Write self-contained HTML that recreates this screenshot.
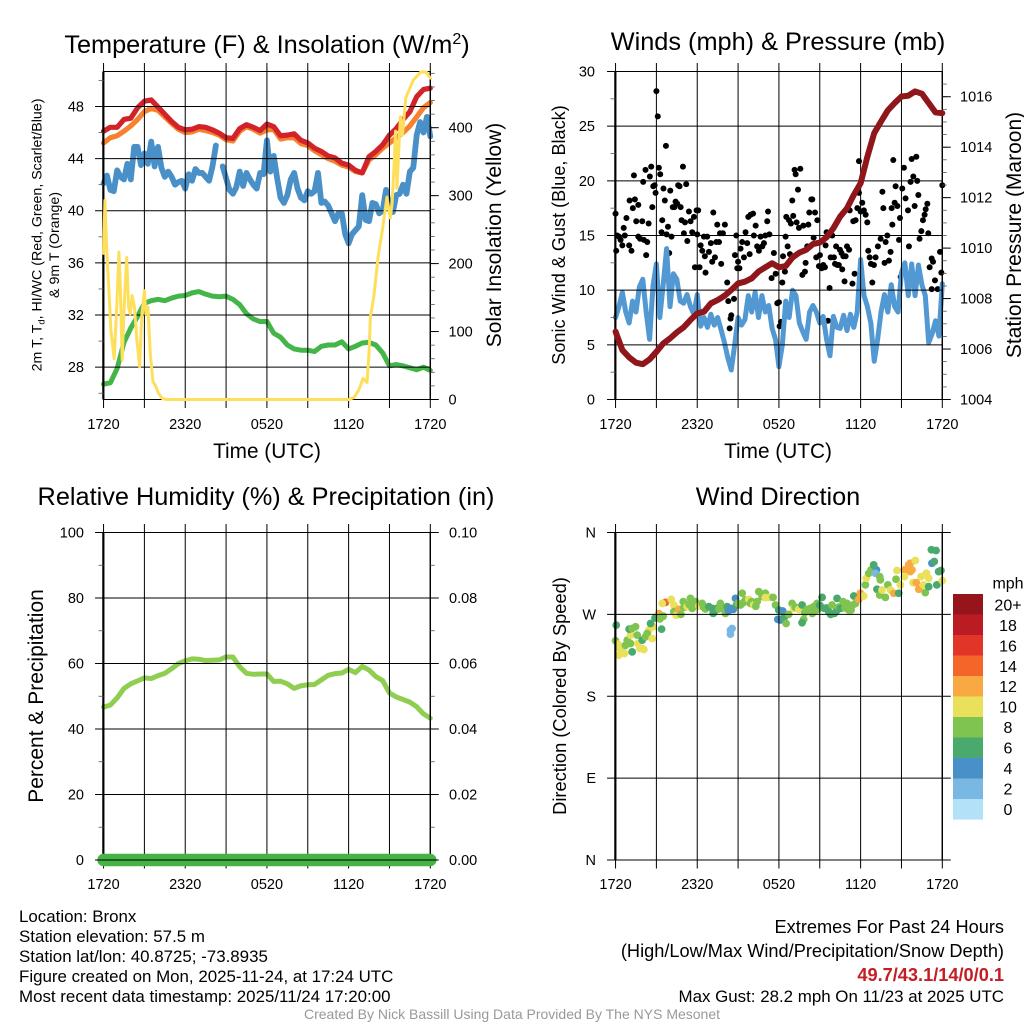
<!DOCTYPE html>
<html lang="en">
<head>
<meta charset="utf-8">
<title>Bronx Mesonet Station Meteogram</title>
<style>
html,body{margin:0;padding:0;background:#fff;width:1024px;height:1024px;overflow:hidden}
svg{display:block}
text{font-family:"Liberation Sans",Arial,sans-serif;fill:#000}
.tick{font-size:14.5px}
.title{font-size:25.3px;text-anchor:middle}
.foot{font-size:16.9px}
.ext{font-size:18.2px}
</style>
</head>
<body>
<svg id="chart" xmlns="http://www.w3.org/2000/svg" width="1024" height="1024" viewBox="0 0 1024 1024">
<rect width="1024" height="1024" fill="#fff"/>
<g id="layer"></g>

<text class="title" x="267" y="53">Temperature (F) &amp; Insolation (W/m<tspan dy="-9" font-size="16">2</tspan><tspan dy="9">)</tspan></text>
<text class="title" x="778" y="50">Winds (mph) &amp; Pressure (mb)</text>
<text class="title" x="266" y="505">Relative Humidity (%) &amp; Precipitation (in)</text>
<text class="title" x="778" y="505">Wind Direction</text>

<text x="267" y="458" font-size="20.8" text-anchor="middle">Time (UTC)</text>
<text x="778" y="458" font-size="20.8" text-anchor="middle">Time (UTC)</text>

<text transform="translate(41.5,235) rotate(-90)" font-size="14.2" text-anchor="middle">2m T, T<tspan font-size="9.5" dy="3">d</tspan><tspan dy="-3">, HI/WC (Red, Green, Scarlet/Blue)</tspan></text>
<text transform="translate(59,245) rotate(-90)" font-size="14.2" text-anchor="middle">&amp; 9m T (Orange)</text>
<text transform="translate(501,235) rotate(-90)" font-size="21" text-anchor="middle">Solar Insolation (Yellow)</text>
<text transform="translate(565,235) rotate(-90)" font-size="18.1" text-anchor="middle">Sonic Wind &amp; Gust (Blue, Black)</text>
<text transform="translate(1021,235) rotate(-90)" font-size="21" text-anchor="middle">Station Pressure (Maroon)</text>
<text transform="translate(43,696) rotate(-90)" font-size="21" text-anchor="middle">Percent &amp; Precipitation</text>
<text transform="translate(566,696) rotate(-90)" font-size="18.3" text-anchor="middle">Direction (Colored By Speed)</text>

<text class="foot" x="19" y="922">Location: Bronx</text>
<text class="foot" x="19" y="942">Station elevation: 57.5 m</text>
<text class="foot" x="19" y="962">Station lat/lon: 40.8725; -73.8935</text>
<text class="foot" x="19" y="982">Figure created on Mon, 2025-11-24, at 17:24 UTC</text>
<text class="foot" x="19" y="1002">Most recent data timestamp: 2025/11/24 17:20:00</text>

<text class="ext" x="1004" y="933" text-anchor="end">Extremes For Past 24 Hours</text>
<text class="ext" x="1004" y="957" text-anchor="end">(High/Low/Max Wind/Precipitation/Snow Depth)</text>
<text class="ext" x="1004" y="981" text-anchor="end" font-weight="bold" style="fill:#c41e24">49.7/43.1/14/0/0.1</text>
<text class="foot" x="1004" y="1002" text-anchor="end">Max Gust: 28.2 mph On 11/23 at 2025 UTC</text>
<text x="512" y="1019" font-size="14" text-anchor="middle" style="fill:#999">Created By Nick Bassill Using Data Provided By The NYS Mesonet</text>
</svg>

<script>
const xTickHours = [0,3,6,9,12,15,18,21,24];
const xTickLabels = ['1720','','2320','','0520','','1120','','1720'];

const tempTicks = [28,32,36,40,44,48];
const solarTicks = [0,100,200,300,400];
const windTicks = [0,5,10,15,20,25,30];
const pressureTicks = [1004,1006,1008,1010,1012,1014,1016];
const humidityTicks = [0,20,40,60,80,100];
const precipTicks = [0,0.02,0.04,0.06,0.08,0.1];
const precipTickLabels = ['0.00','0.02','0.04','0.06','0.08','0.10'];
const directionTicks = [0,90,180,270,360];
const directionTickLabels = ['N','E','S','W','N'];

const legendLabels = ['20+','18','16','14','12','10','8','6','4','2','0'];
const legendColors = ['#96151a','#bb1b23','#e03528','#f4652a','#f9a942','#e9e15b','#7fc450','#4aa96c','#4a90c8','#7ab8e4','#b3e1f8'];

/* half-hourly */
const tempRed = [46.1,46.4,46.4,47.0,47.1,47.9,48.4,48.5,47.95,47.4,46.85,46.4,46.2,46.25,46.45,46.4,46.2,45.95,45.6,45.55,46.3,46.6,46.4,46.15,46.65,46.45,45.75,45.8,45.9,45.4,45.2,44.8,44.55,44.2,44.05,43.65,43.5,43.1,42.9,44.15,44.55,45.05,45.8,46.3,47.0,47.6,48.75,49.3,49.4];
const tempOrange = [45.2,45.6,45.75,46.1,46.5,47.0,47.6,47.85,47.7,47.2,46.7,46.25,46.0,46.05,46.25,46.15,46.0,45.8,45.45,45.35,46.1,46.45,46.25,45.95,46.2,46.25,45.5,45.6,45.6,45.15,45.0,44.6,44.3,44.0,43.8,43.5,43.35,43.0,42.9,43.9,44.3,44.8,45.2,45.6,46.0,46.5,47.2,47.9,48.3];
const tempGreen = [26.7,26.8,27.9,29.9,31.0,31.9,32.9,33.1,33.2,33.1,33.3,33.45,33.5,33.7,33.8,33.6,33.45,33.4,33.45,33.2,32.8,32.1,31.7,31.5,31.5,30.6,30.3,29.7,29.4,29.3,29.3,29.2,29.6,29.7,29.7,29.95,29.4,29.6,29.85,29.9,29.7,29.1,28.1,28.2,28.1,27.95,27.8,28.0,27.75];
/* quarter-hourly */
const tempBlue = [42.1,42.7,41.6,41.5,43.1,42.6,42.4,43.6,42.4,44.9,44.9,43.5,44.4,43.6,45.3,43.4,44.9,43.3,42.6,43.0,42.6,42.0,42.2,42.3,41.7,42.8,42.3,43.2,42.9,42.9,42.6,42.3,43.4,45.0,null,43.4,42.5,41.6,41.3,41.8,43.0,41.9,42.9,42.4,42.0,41.7,42.9,42.8,45.4,43.0,44.2,42.5,41.0,40.6,41.2,42.4,42.9,41.7,41.0,40.8,41.5,41.3,41.5,42.9,40.6,40.7,40.4,39.8,39.2,39.8,39.8,38.2,37.5,38.2,38.5,38.8,41.2,39.3,39.2,40.6,40.5,39.8,40.0,41.6,40.4,39.9,41.2,41.3,42.0,41.3,43.0,43.3,45.8,46.8,46.0,47.2,45.7];

const solarHours = [0,0.1,0.25,0.37,0.54,0.78,0.98,1.13,1.23,1.37,1.5,1.7,1.84,1.96,2.1,2.27,2.45,2.65,2.8,3.0,3.1,3.26,3.43,3.63,3.8,4.04,4.34,4.66,18.0,18.4,18.75,19.06,19.35,19.5,19.6,19.85,20.18,20.5,20.82,21.06,21.2,21.35,21.45,21.55,21.8,21.95,22.2,22.75,23.3,23.7,24];
const solarValues = [215,293,215,170,102,60,141,217,165,58,131,209,136,126,153,136,87,48,121,160,126,136,68,26,21,9,1,0,0,3,14,31,25,68,122,151,212,252,298,267,290,350,395,311,416,389,444,470,482,482,473];

const windSonic = [7.5,8.5,9.8,8.0,7.0,9.0,8.0,10.3,11.0,8.0,5.5,10.4,12.4,7.5,10.5,13.8,8.5,11.5,11.0,9.0,8.8,9.6,8.5,7.8,9.6,6.7,7.5,6.6,7.8,6.8,7.5,6.4,5.2,3.8,2.7,5.0,7.5,6.8,7.3,9.5,8.0,9.8,7.5,9.5,8.0,8.6,6.5,5.5,3.0,5.0,9.0,7.5,10.0,9.5,7.0,6.2,5.5,8.0,8.6,8.0,7.0,7.6,5.5,4.0,7.6,6.6,6.5,7.7,6.3,7.8,6.6,8.0,12.8,9.5,8.5,7.0,3.5,5.5,8.0,9.6,8.0,10.5,8.5,8.0,11.6,12.5,9.5,12.4,9.5,12.3,10.5,9.5,5.2,6.0,7.2,5.8,10.6];
const stationPressure = [1006.69,1005.96,1005.67,1005.46,1005.40,1005.59,1005.89,1006.22,1006.42,1006.66,1006.86,1007.15,1007.41,1007.48,1007.81,1007.94,1008.11,1008.34,1008.60,1008.67,1008.80,1009.07,1009.24,1009.40,1009.24,1009.29,1009.63,1009.82,1009.93,1010.16,1010.22,1010.43,1010.79,1011.25,1011.58,1012.11,1012.57,1013.63,1014.56,1015.02,1015.46,1015.75,1016.01,1016.04,1016.21,1016.12,1015.75,1015.38,1015.35];

/* [hour, gust mph] */
const gustObs = [[0,17],[.05,13.6],[.12,15],[.25,14.9],[.37,14.6],[.5,14.1],[.6,15.7],[.68,15],[.8,16.6],[1,14.1],[1.03,18.2],[1.17,13.6],[1.27,17.5],[1.35,20.5],[1.42,18.3],[1.52,16.3],[1.67,17.8],[1.67,14.9],[1.8,14.7],[1.96,16.3],[2.03,19.9],[2.08,14.6],[2.2,21],[2.25,13.2],[2.33,14.4],[2.43,16.1],[2.52,20.4],[2.62,21.3],[2.7,17.6],[2.77,19.5],[2.87,19.6],[2.94,18.9],[3,28.2],[3.1,25.9],[3.18,21.2],[3.28,20.6],[3.38,15.3],[3.43,16.4],[3.52,19.3],[3.62,18.2],[3.7,23.2],[3.75,15.1],[3.85,15.8],[3.94,13.4],[4.02,19.1],[4.11,14.9],[4.2,17.6],[4.32,17.6],[4.41,18.1],[4.53,17.9],[4.6,19.6],[4.7,19.5],[4.78,17.6],[4.85,16.4],[4.95,21.3],[5.02,15.2],[5.1,16.2],[5.19,19.7],[5.27,14.5],[5.39,17.2],[5.51,16.3],[5.63,15.3],[5.76,16.7],[5.83,12.1],[5.95,17.3],[6.07,17.3],[6,15.1],[6.17,12.1],[6.25,14.1],[6.37,13.6],[6.49,14.9],[6.56,13.1],[6.61,11.6],[6.73,14.9],[6.86,13.5],[7,14.3],[7.1,12.6],[7.18,17.1],[7.3,13],[7.4,14.4],[7.47,16],[7.6,14.4],[7.67,15.2],[7.76,12.4],[7.89,15.2],[8.03,16],[8.2,10.7],[8.28,9],[8.38,6.5],[8.45,7.4],[8.5,7.7],[8.7,9.2],[8.77,13.2],[8.87,15],[8.94,12],[9,12.6],[9.1,12],[9.18,13.8],[9.3,14.4],[9.43,13],[9.55,15.3],[9.67,14.3],[9.75,16.7],[9.85,13.3],[9.92,16.9],[10.1,17],[10.16,15],[10.29,15.9],[10.4,14],[10.53,13.6],[10.65,14.9],[10.78,14],[10.9,14.3],[11,15],[11.14,16.3],[11.2,17.2],[11.3,15.1],[11.46,11.1],[11.63,13.4],[11.76,11.5],[11.88,8.8],[12,8.9],[12.05,6.7],[12.15,7.1],[12.25,10.7],[12.3,13.1],[12.44,11.7],[12.49,14.9],[12.54,16.7],[12.64,14],[12.74,16.4],[12.81,13.3],[12.88,16.1],[12.98,18.2],[13.05,16.8],[13.15,21],[13.23,20.6],[13.3,16.2],[13.4,19.2],[13.47,15.7],[13.57,21.1],[13.72,11.4],[13.79,15.9],[13.91,11.7],[13.96,12.5],[14.08,14],[14.16,16],[14.23,17.1],[14.38,18.3],[14.45,18.3],[14.55,14.8],[14.65,17.1],[14.74,13],[14.82,16.4],[14.94,12.2],[15.01,13.2],[15.14,12],[15.26,12.3],[15.38,12.1],[15.43,14.1],[15.5,15.3],[15.6,7.2],[15.72,10.2],[15.8,13],[15.92,15],[16.04,13],[16.12,12.4],[16.2,14],[16.29,12.3],[16.4,12.3],[16.48,13.7],[16.6,13.4],[16.65,11.9],[16.73,13.1],[16.82,10.8],[16.9,13.1],[17,14],[17.2,17.3],[17.15,13.7],[17.4,10.6],[17.46,16.3],[17.56,11.5],[17.63,16.4],[17.76,17.5],[17.88,21.8],[17.88,18.9],[18,17.2],[18.12,18],[18.24,17.3],[18.37,16.9],[18.49,16.2],[18.56,13.6],[18.66,13],[18.76,12.4],[18.86,10.7],[18.98,12.3],[19.1,13],[19.27,14],[19.47,14.7],[19.6,19],[19.67,17.5],[19.76,12.5],[19.84,14.4],[19.96,15],[20.08,12.7],[20.2,13.5],[20.28,17.5],[20.33,16],[20.4,21.9],[20.5,18],[20.57,19.5],[20.7,17.7],[20.82,14.6],[20.89,16.6],[20.94,11.2],[21.06,19.3],[21.18,21.2],[21.3,18.4],[21.48,17.3],[21.55,14],[21.67,19.9],[21.75,22],[21.87,20.4],[21.97,17.7],[22.09,22.2],[22.16,20],[22.24,18.7],[22.33,14.7],[22.46,15.4],[22.58,16.4],[22.7,16.9],[22.78,17.4],[22.9,17.9],[22.97,15.2],[23.07,12.1],[23.22,12.9],[23.32,12.6],[23.22,10.1],[23.46,10.9],[23.66,10.1],[23.83,13.5],[23.93,11.6],[24,19.6]];

const relativeHumidity = [46.7,47.3,49.5,52.4,53.8,54.7,55.6,55.4,56.3,57,58.4,60,60.8,61.4,61.3,60.9,61,61.1,62,62,59,57,56.7,56.8,56.8,54.5,54.6,53.8,52.4,53.2,53.5,53.6,55,56.4,56.9,57.1,58.2,57.2,59.1,58,56,54.8,51,49.8,49,48.2,46.8,44.6,43.3];
const precipitation = [0,0];

/* [hour, direction degrees, speed mph] */
const directionObs = [[.05,258.2,6],[0,241,8],[.17,237.3,10],[.32,232.5,10],[.24,225.1,10],[.42,228.8,10],[.66,227,10],[.56,234.3,10],[.86,241.7,8],[.73,236,8],[1.1,247.2,10],[1,253.8,6],[1.47,256.4,8],[1.22,254.5,8],[1.59,247.2,8],[1.22,228.8,6],[1.1,238,8],[1.64,238,10],[1.96,232.5,10],[1.79,232.5,10],[2.08,231.4,10],[1.96,241.7,6],[2.2,245.4,8],[2.45,252.7,10],[2.32,249,8],[2.76,256.4,10],[2.69,243.5,10],[2.57,260,6],[3.38,253.8,6],[3.18,271,12],[3,267.4,10],[3.43,267.4,8],[2.9,266,6],[3.25,265,8],[3.5,268,8],[3.67,283.2,14],[3.43,282,10],[4.09,286.5,10],[4.28,280.3,10],[4.28,273,8],[4.45,269,10],[4.65,275.5,12],[4.8,270,8],[4.97,284,8],[5.02,277.7,8],[5.26,278.5,10],[5.4,281,8],[5.5,287.6,8],[5.63,276.6,8],[5.87,284,8],[6,280,8],[6.12,279.2,10],[6.36,282,8],[6.48,277.7,8],[6.6,276,8],[6.85,278.5,6],[7.1,276.6,6],[7.17,271.1,6],[7.3,274,6],[7.46,276.6,6],[7.6,276,8],[7.7,282,8],[7.83,276.6,8],[8.07,271.1,8],[8.2,278.5,6],[8.3,274,4],[8.44,252.7,2],[8.44,248.3,2],[8.56,254.5,2],[8.44,276.6,4],[8.64,275.5,4],[8.81,287.6,4],[8.88,280.3,6],[9,282,8],[9.18,280.3,8],[9.3,293.2,8],[9.4,283,8],[9.54,285.8,8],[9.79,286.5,10],[9.91,282,8],[10,284,8],[10.15,280.3,10],[10.3,279,8],[10.4,284,8],[10.52,295,8],[10.77,289.5,8],[11,293.2,8],[11,288.4,10],[11.3,288.7,10],[11.57,288.7,8],[11.75,280.3,8],[11.99,274.8,6],[12.28,273.7,4],[11.92,264.5,4],[12.11,263.8,4],[12.36,266.7,6],[12.45,268,6],[12.53,260,8],[12.72,270,8],[12.97,282,8],[13.09,276.6,10],[13.2,278,8],[13.46,275.5,10],[13.7,280.3,6],[13.82,264.5,8],[13.7,260.8,6],[13.9,272,8],[14.07,275.5,8],[14.2,274,8],[14.31,276.6,8],[14.45,271,8],[14.56,278.5,8],[14.8,282,8],[14.68,274,8],[14.9,276,8],[15,280,6],[15.17,288.7,6],[15.34,276.6,6],[15.5,277,6],[15.66,272.9,6],[15.8,270,6],[15.9,280.3,8],[16.07,271.1,6],[16.2,273,6],[16.27,287.6,6],[16.4,278,8],[16.52,276.6,6],[16.71,284,8],[16.85,277,8],[17,282,8],[17.13,274.8,8],[17.3,274.8,8],[17.4,280,8],[17.5,290.2,6],[17.62,282,8],[17.86,286.5,12],[17.98,293.2,12],[18.23,290.2,10],[18.35,302.4,8],[18.42,309.7,10],[18.6,315.2,8],[18.77,318.9,8],[19.16,318.9,4],[19.08,315.2,2],[18.96,324.4,6],[19.4,311.5,8],[19.45,307.9,8],[19.2,297.6,6],[19.4,291.3,8],[19.57,296.8,10],[19.82,288.7,8],[20,302.4,8],[20.19,296.8,10],[20.43,293.2,12],[20.8,293.2,6],[20.6,308.6,8],[20.67,318.2,10],[20.92,302.4,10],[21.22,318.9,12],[21.22,311.5,10],[21.53,324.4,12],[21.65,326.2,12],[22.02,329.2,10],[21.77,318.9,12],[21.65,317,12],[21.85,304.9,10],[22.09,304.9,12],[22.27,297.6,12],[22.44,311.5,10],[22.63,302.4,10],[22.83,315.2,10],[22.75,293.9,8],[23,300.5,6],[23,309.7,10],[23.2,341,6],[23.54,340.2,6],[23.24,326.2,4],[23.41,328.1,6],[23.6,302.4,6],[23.73,317,6],[23.9,318.2,6],[24,307.1,10]];

const SVGNS = 'http://www.w3.org/2000/svg';
const layer = document.getElementById('layer');

function make(tag, parent, name) {
  const el = document.createElementNS(SVGNS, tag);
  
  
  parent.appendChild(el);
  return el;
}
function group(name) {
  return make('g', layer, name);
}
function line(parent, name, x1, y1, x2, y2, w, color) {
  const l = make('line', parent, name);
  l.setAttribute('x1', x1);
  l.setAttribute('y1', y1);
  l.setAttribute('x2', x2);
  l.setAttribute('y2', y2);
  l.setAttribute('stroke', color || '#000');
  l.setAttribute('stroke-width', w);
  return l;
}
function label(parent, name, x, y, str, anchor) {
  const t = make('text', parent, name);
  t.setAttribute('x', x);
  t.setAttribute('y', y);
  t.setAttribute('class', 'tick');
  t.setAttribute('text-anchor', anchor);
  t.textContent = str;
  return t;
}
function linear(d0, d1, r0, r1) {
  return v => r0 + (v - d0) / (d1 - d0) * (r1 - r0);
}
function evenHours(values) {
  return values.map((_, i) => i / (values.length - 1) * 24);
}
function series(parent, name, hours, values, xs, ys, w, color) {
  let d = '';
  let pen = false;
  values.forEach((v, i) => {
    if (v === null) { pen = false; return; }
    d += (pen ? 'L' : 'M') + xs(hours[i]).toFixed(2) + ' ' + ys(v).toFixed(2);
    pen = true;
  });
  const p = make('path', parent, name);
  p.setAttribute('d', d);
  p.setAttribute('fill', 'none');
  p.setAttribute('stroke', color);
  p.setAttribute('stroke-width', w);
  p.setAttribute('stroke-linejoin', 'round');
  p.setAttribute('stroke-linecap', 'round');
  return p;
}
function grid(parent, box, xs, yTicks, ys, extendRight) {
  const [L, R, T, B] = [box.left, box.right, box.top, box.bottom];
  xTickHours.forEach(h => {
    line(parent, 'vertical-gridline', xs(h), T - 8.5, xs(h), B + 8.5, 1);
  });
  yTicks.forEach(v => {
    line(parent, 'horizontal-gridline', L - 8.5, ys(v), R + (extendRight ? 8.5 : 0), ys(v), 1);
  });
  line(parent, 'panel-top-border', L - 0.5, T, R + 0.5, T, 1);
  line(parent, 'panel-bottom-border', L - 0.5, B, R + 0.5, B, 1);
  line(parent, 'panel-left-axis', L - 0.2, T, L - 0.2, B, 2.2);
  line(parent, 'panel-right-axis', R, T, R, B, 1.4);
}
function xLabels(parent, xs, y) {
  xTickHours.forEach((h, i) => {
    if (xTickLabels[i]) label(parent, 'x-tick-label', xs(h), y, xTickLabels[i], 'middle');
  });
}
function minorLeft(parent, ys, from, to, step, L) {
  for (let v = from; v <= to + 1e-6; v += step) {
    line(parent, 'left-minor-tick', L - 5, ys(v), L, ys(v), 0.8, '#555');
  }
}
function axisRight(parent, ticks, names, ys, R, from, to, step, x) {
  for (let v = from; v <= to + 1e-6; v += step) {
    line(parent, 'right-minor-tick', R, ys(v), R + 4.5, ys(v), 0.8, '#555');
  }
  ticks.forEach((v, i) => {
    line(parent, 'right-major-tick', R, ys(v), R + 8.5, ys(v), 1);
    label(parent, 'right-tick-label', x, ys(v) + 5, names[i], 'start');
  });
}
function leftLabels(parent, ticks, names, ys, x) {
  ticks.forEach((v, i) => {
    label(parent, 'left-tick-label', x, ys(v) + 5, names[i], 'end');
  });
}
function speedColor(mph) {
  const bin = Math.min(10, Math.floor(mph / 2));
  return legendColors[10 - bin];
}

/* ---------- Panel 1: temperature & insolation ---------- */
(function () {
  const box = {left: 103.55, right: 430.3, top: 71.5, bottom: 399.5};
  const g = group('temperature-panel');
  const xs = linear(0, 24, box.left, box.right);
  const yT = linear(25.52, 50.68, box.bottom, box.top);
  const yS = linear(0, 482.7, box.bottom, box.top);
  const dataLayer = make('g', g, 'temperature-series');
  series(dataLayer, 'temperature-blue-line', evenHours(tempBlue), tempBlue, xs, yT, 5.8, '#4a90c8');
  series(dataLayer, 'temperature-green-line', evenHours(tempGreen), tempGreen, xs, yT, 5, '#44b549');
  series(dataLayer, 'temperature-orange-line', evenHours(tempOrange), tempOrange, xs, yT, 5.2, '#f6822f');
  series(dataLayer, 'temperature-red-line', evenHours(tempRed), tempRed, xs, yT, 5.2, '#d2232a');
  const axes = make('g', g, 'temperature-axes');
  grid(axes, box, xs, tempTicks, yT, false);
  minorLeft(axes, yT, 26, 50, 4, box.left);
  leftLabels(axes, tempTicks, tempTicks.map(String), yT, 84);
  xLabels(axes, xs, 429);
  series(g, 'solar-insolation-line', solarHours, solarValues, xs, yS, 3, '#fddf5b');
  axisRight(g, solarTicks, solarTicks.map(String), yS, box.right, 20, 480, 20, 448.5);
})();

/* ---------- Panel 2: winds & pressure ---------- */
(function () {
  const box = {left: 615.55, right: 942.3, top: 71.5, bottom: 399.5};
  const g = group('winds-panel');
  const xs = linear(0, 24, box.left, box.right);
  const yW = linear(0, 30, box.bottom, box.top);
  const yP = linear(1004, 1017, box.bottom, box.top);
  const dataLayer = make('g', g, 'wind-series');
  gustObs.forEach(o => {
    const c = make('circle', dataLayer, 'gust-point');
    c.setAttribute('cx', xs(o[0]).toFixed(2));
    c.setAttribute('cy', yW(o[1]).toFixed(2));
    c.setAttribute('r', 3);
    c.setAttribute('fill', '#000');
  });
  series(dataLayer, 'sonic-wind-line', evenHours(windSonic), windSonic, xs, yW, 5, '#5299d3');
  const axes = make('g', g, 'winds-axes');
  grid(axes, box, xs, windTicks, yW, false);
  minorLeft(axes, yW, 2.5, 27.5, 5, box.left);
  leftLabels(axes, windTicks, windTicks.map(String), yW, 595);
  xLabels(axes, xs, 429);
  series(g, 'station-pressure-line', evenHours(stationPressure), stationPressure, xs, yP, 6, '#8f161a');
  axisRight(g, pressureTicks, pressureTicks.map(String), yP, box.right, 1004.5, 1016.5, 0.5, 960);
})();

/* ---------- Panel 3: humidity & precipitation ---------- */
(function () {
  const box = {left: 103.55, right: 430.3, top: 532.5, bottom: 860};
  const g = group('humidity-panel');
  const xs = linear(0, 24, box.left, box.right);
  const yH = linear(0, 100, box.bottom, box.top);
  const yR = linear(0, 0.1, box.bottom, box.top);
  series(g, 'relative-humidity-line', evenHours(relativeHumidity), relativeHumidity, xs, yH, 5, '#8fce51');
  const verticals = make('g', g, 'humidity-vertical-grid');
  xTickHours.forEach(h => {
    line(verticals, 'vertical-gridline', xs(h), box.top - 8.5, xs(h), box.bottom + 8.5, 1);
  });
  line(verticals, 'panel-left-axis', box.left - 0.2, box.top, box.left - 0.2, box.bottom, 2.2);
  line(verticals, 'panel-right-axis', box.right, box.top, box.right, box.bottom, 1.4);
  series(g, 'precipitation-line', evenHours(precipitation), precipitation, xs, yR, 12.5, '#45b445');
  const axes = make('g', g, 'humidity-axes');
  humidityTicks.forEach(v => {
    line(axes, 'horizontal-gridline', box.left - 8.5, yH(v), box.right, yH(v), 1);
  });
  minorLeft(axes, yH, 10, 90, 20, box.left);
  leftLabels(axes, humidityTicks, humidityTicks.map(String), yH, 84);
  xLabels(axes, xs, 889);
  axisRight(g, precipTicks, precipTickLabels, yR, box.right, 0.01, 0.09, 0.02, 449);
})();

/* ---------- Panel 4: wind direction ---------- */
(function () {
  const box = {left: 615.55, right: 942.3, top: 532.5, bottom: 860};
  const g = group('wind-direction-panel');
  const xs = linear(0, 24, box.left, box.right);
  const yD = linear(0, 360, box.bottom, box.top);
  const dots = make('g', g, 'direction-series');
  directionObs.forEach(o => {
    const c = make('circle', dots, 'direction-point');
    c.setAttribute('cx', xs(o[0]).toFixed(2));
    c.setAttribute('cy', yD(o[1]).toFixed(2));
    c.setAttribute('r', 3.9);
    c.setAttribute('fill', speedColor(o[2]));
  });
  const axes = make('g', g, 'direction-axes');
  grid(axes, box, xs, directionTicks, yD, true);
  leftLabels(axes, directionTicks, directionTickLabels, yD, 596);
  xLabels(axes, xs, 889);
})();

/* ---------- Wind speed legend ---------- */
(function () {
  const g = group('wind-speed-legend');
  const title = label(g, 'legend-unit-label', 1008, 588.5, 'mph', 'middle');
  title.style.fontSize = '16px';
  legendLabels.forEach((txt, i) => {
    const r = make('rect', g, 'legend-swatch');
    r.setAttribute('x', 953);
    r.setAttribute('y', 594 + i * 20.5);
    r.setAttribute('width', 30);
    r.setAttribute('height', 20.6);
    r.setAttribute('fill', legendColors[i]);
    const t = label(g, 'legend-label', 1008, 610.4 + i * 20.45, txt, 'middle');
    t.style.fontSize = '16px';
  });
})();
</script>
</body>
</html>
